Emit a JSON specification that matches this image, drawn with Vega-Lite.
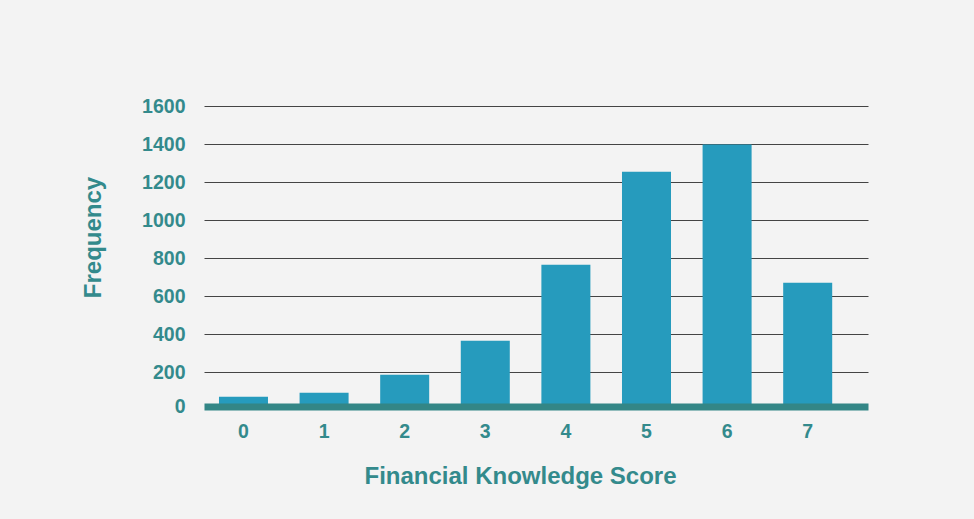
{
  "$schema": "https://vega.github.io/schema/vega-lite/v6.json",
  "width": 664,
  "height": 304,
  "autosize": {"type": "none"},
  "padding": {"left": 204, "top": 106, "right": 106, "bottom": 109},
  "background": "#f3f3f3",
  "config": {
    "font": "Liberation Sans",
    "view": {"stroke": null}
  },
  "data": {
    "values": [
      {"score": "0", "frequency": 70},
      {"score": "1", "frequency": 91},
      {"score": "2", "frequency": 186},
      {"score": "3", "frequency": 365},
      {"score": "4", "frequency": 764},
      {"score": "5", "frequency": 1254},
      {"score": "6", "frequency": 1398},
      {"score": "7", "frequency": 670}
    ]
  },
  "mark": {"type": "bar", "color": "#269bbd"},
  "encoding": {
    "x": {
      "field": "score",
      "type": "ordinal",
      "sort": null,
      "scale": {"paddingInner": 0.392, "paddingOuter": 0.315, "align": 0.295},
      "axis": {
        "title": "Financial Knowledge Score",
        "titleFontSize": 24,
        "titleFontWeight": "bold",
        "titleColor": "#338a8c",
        "titleX": 316,
        "titleY": 76.5,
        "titleBaseline": "alphabetic",
        "titleAlign": "center",
        "labelAngle": 0,
        "labelFontSize": 19.5,
        "labelFontWeight": "bold",
        "labelColor": "#338a8c",
        "labelPadding": 16,
        "ticks": false,
        "domainColor": "#338686",
        "domainWidth": 7,
        "offset": -3.5,
        "zindex": 1
      }
    },
    "y": {
      "field": "frequency",
      "type": "quantitative",
      "scale": {"domain": [0, 1600], "nice": false},
      "axis": {
        "title": "Frequency",
        "titleFontSize": 24,
        "titleFontWeight": "bold",
        "titleColor": "#338a8c",
        "titleX": -104,
        "titleY": 131,
        "titleAlign": "center",
        "titleBaseline": "alphabetic",
        "values": [0, 200, 400, 600, 800, 1000, 1200, 1400, 1600],
        "format": "d",
        "labelFontSize": 19.5,
        "labelFontWeight": "bold",
        "labelColor": "#338a8c",
        "labelPadding": 19,
        "labelOffset": {"condition": {"test": "datum.value === 0", "value": -4}, "value": 0},
        "ticks": false,
        "domain": false,
        "grid": true,
        "gridColor": "#444444",
        "gridWidth": 1,
        "gridOpacity": {"condition": {"test": "datum.value === 0", "value": 0}, "value": 1}
      }
    }
  }
}
